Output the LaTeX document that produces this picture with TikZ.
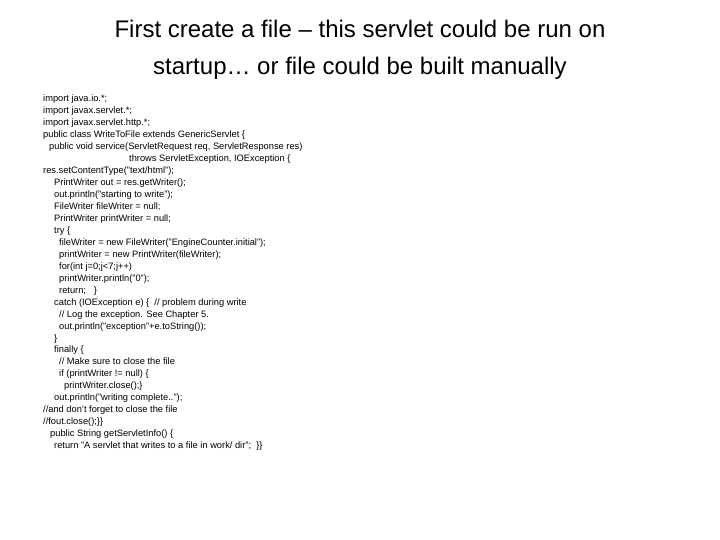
\documentclass[tikz,border=0pt]{standalone}
\usepackage{fontspec}
\setmainfont{Liberation Sans}
\begin{document}
\begin{tikzpicture}[x=1pt,y=-1pt,
  code/.style={anchor=base west,inner sep=0pt,font=\fontsize{9.3}{10}\selectfont},
  title/.style={align=center,font=\fontsize{24}{37}\selectfont}]
\useasboundingbox (0,0) rectangle (720,540);
\node[title] (t) at (360,50) {First create a file -- this servlet could be run on\\startup… or file could be built manually};
\foreach \i/\x/\s in {
0/43/{import java.io.*;},
1/43/{import javax.servlet.*;},
2/43/{import javax.servlet.http.*;},
3/43/{public class WriteToFile extends GenericServlet \{},
4/49/{public void service(ServletRequest req, ServletResponse res)},
5/129/{throws ServletException, IOException \{},
6/43/{res.setContentType("text/html");},
7/54/{PrintWriter out = res.getWriter();},
8/54/{out.println("starting to write");},
9/54/{FileWriter fileWriter = null;},
10/54/{PrintWriter printWriter = null;},
11/54/{try \{},
12/59/{fileWriter = new FileWriter("EngineCounter.initial");},
13/59/{printWriter = new PrintWriter(fileWriter);},
14/59/{for(int j=0;j<7;j++)},
15/59/{printWriter.println("0");},
16/59/{return;\ \ \ \}},
17/54/{catch (IOException e) \{ \ // problem during write},
18/59/{// Log the exception. See Chapter 5.},
19/59/{out.println("exception"+e.toString());},
20/54/{\}},
21/54/{finally \{},
22/59/{// Make sure to close the file},
23/59/{if (printWriter != null) \{},
24/64/{printWriter.close();\}},
25/54/{out.println("writing complete..");},
26/43/{//and don't forget to close the file},
27/43/{//fout.close();\}\}},
28/50/{public String getServletInfo() \{},
29/54/{return "A servlet that writes to a file in work/ dir"; \ \}\}}}
  \node[code] (l\i) at (\x,{102+\i*11.95}) {\s};
\end{tikzpicture}
\end{document}
